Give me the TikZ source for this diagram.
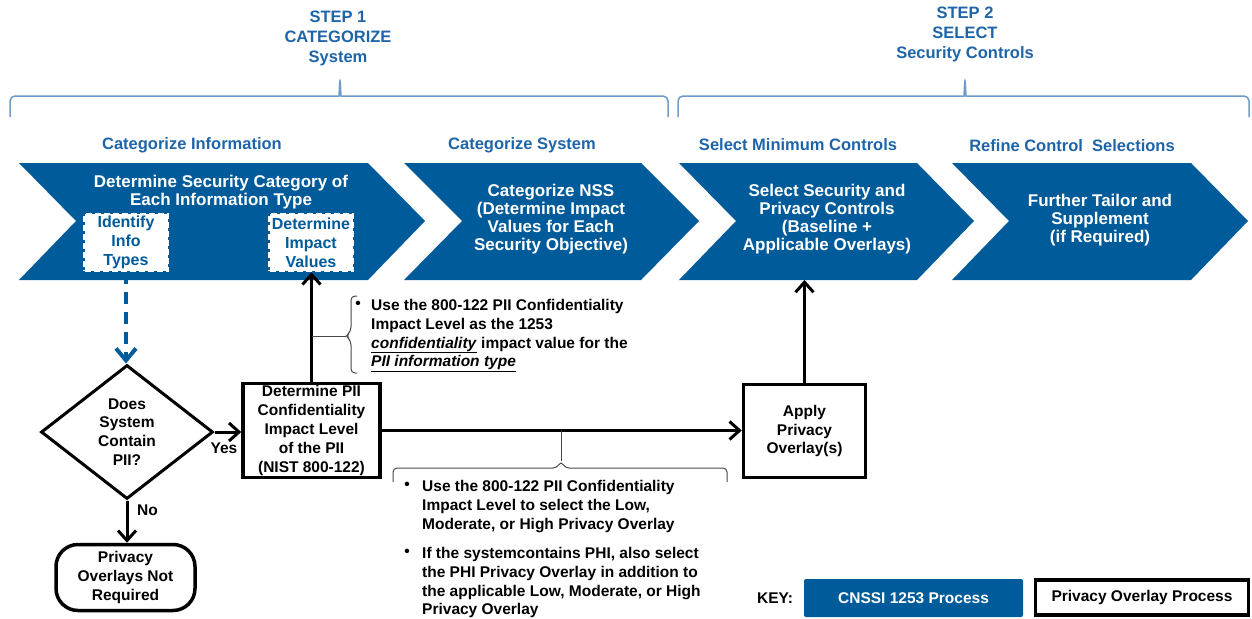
\documentclass[tikz,border=0pt]{standalone}
\usepackage{fontspec}
\setmainfont{Liberation Sans}
\usetikzlibrary{shapes.geometric,arrows.meta}
\definecolor{chevblue}{RGB}{0,91,154}
\definecolor{headblue}{RGB}{30,100,168}
\definecolor{braceblue}{RGB}{110,155,200}
\definecolor{notegray}{RGB}{70,70,70}
\begin{document}
\begin{tikzpicture}[x=1pt,y=-1pt,
  chev/.style={fill=chevblue},
  head/.style={text=headblue,font=\fontsize{16.5}{20}\selectfont\bfseries,align=center},
  chevtext/.style={text=white,font=\fontsize{17}{18}\selectfont\bfseries,align=center},
  infobox/.style={fill=white,draw=white,dash pattern=on 6pt off 3pt,line width=2.5pt,text=chevblue,
    font=\fontsize{16}{19}\selectfont\bfseries,align=center,minimum width=83pt,minimum height=57pt,inner sep=0pt},
  flow/.style={font=\fontsize{15.5}{18.8}\selectfont\bfseries,align=center,inner sep=0pt},
  box/.style={flow,draw,line width=3.5pt},
  link/.style={line width=3pt,-{Straight Barb[length=10pt,width=18pt]}},
  bracket/.style={draw=notegray,line width=1pt,rounded corners=4pt},
  stepbrace/.style={draw=braceblue,line width=1.5pt,rounded corners=5pt},
  note/.style={flow,align=left,anchor=north west}]
\useasboundingbox (0,0) rectangle (1252,618);
\draw[stepbrace] (10,117) -- (10,96) -- (334,96) .. controls (339,96) .. (340,78) .. controls (341,96) .. (346,96) -- (668,96) -- (668,117);
\draw[stepbrace] (678,117) -- (678,96) -- (959,96) .. controls (964,96) .. (965,78) .. controls (966,96) .. (971,96) -- (1249,96) -- (1249,117);
\node[head] (step1) at (338,38) {STEP 1\\CATEGORIZE\\System};
\node[head] (step2) at (965,34) {STEP 2\\SELECT\\Security Controls};
\node[head] (catinfo) at (192,145) {Categorize Information};
\node[head] (catsys) at (522,145) {Categorize System};
\node[head] (selmin) at (798,145) {Select Minimum Controls};
\node[head] (refine) at (1072,146) {Refine Control\ \ Selections};
\fill[chev] (19,163) -- (368,163) -- (425,221) -- (368,280) -- (19,280) -- (76,221) -- cycle;
\fill[chev] (404,163) -- (641,163) -- (699,221) -- (641,280) -- (404,280) -- (462,221) -- cycle;
\fill[chev] (679,163) -- (917,163) -- (974,221) -- (917,280) -- (679,280) -- (736,221) -- cycle;
\fill[chev] (952,163) -- (1191,163) -- (1248,221) -- (1191,280) -- (952,280) -- (1009,221) -- cycle;
\coordinate (chevbase) at (0,280);
\node[chevtext] (seccat) at (221,192.5) {Determine Security Category of\\Each Information Type};
\node[infobox] (ident) at (126,242.5) {Identify\\Info\\Types};
\node[infobox] (impact) at (311,242.5) {Determine\\Impact\\Values};
\node[chevtext] (catnss) at (551,219) {Categorize NSS\\(Determine Impact\\Values for Each\\Security Objective)};
\node[chevtext] (selctl) at (827,219) {Select Security and\\Privacy Controls\\(Baseline +\\Applicable Overlays)};
\node[chevtext] (tailor) at (1100,220) {Further Tailor and\\Supplement\\(if Required)};
\node[flow,diamond,draw,line width=3pt,minimum width=172pt,minimum height=134pt] (haspii) at (127,432) {Does\\System\\Contain\\PII?};
\node[box,minimum width=137pt,minimum height=94pt] (piilevel) at (311.5,430.5) {Determine PII\\Confidentiality\\Impact Level\\of the PII\\(NIST 800-122)};
\node[box,minimum width=122pt,minimum height=93pt] (apply) at (804.5,431) {Apply\\Privacy\\Overlay(s)};
\node[box,rounded corners=22pt,minimum width=139pt,minimum height=66pt] (noreq) at (125.5,577.5) {Privacy\\Overlays Not\\Required};
\node[flow] (yes) at (224,448) {Yes};
\node[flow] (no) at (147.5,510) {No};
\draw[link,draw=chevblue,line width=4pt,dash pattern=on 12pt off 8pt,-{Straight Barb[length=12pt,width=20pt]}] (ident.south) -- (ident.south |- haspii.north);
\draw[link] (haspii.east) -- (haspii.east -| piilevel.west);
\draw[link] (haspii.south) -- (haspii.south |- noreq.north);
\draw[link] (piilevel.north) -- (piilevel.north |- impact.south);
\draw[link] (piilevel.east) -- (piilevel.east -| apply.west);
\draw[link] (apply.north) -- (apply.north |- chevbase);
\coordinate (tip1) at (346,336);
\draw[bracket] (piilevel.north |- tip1) -- (tip1);
\draw[bracket] (357,296) -- (351,296) -- (351,331) -- (tip1) -- (351,341) -- (351,373) -- (357,373);
\node[flow] (dot1) at (358,305) {\textbullet};
\node[note] (note1) at (371,299) {Use the 800-122 PII Confidentiality\\Impact Level as the 1253\\\underline{\textit{confidentiality}} impact value for the\\\underline{\textit{PII information type}}};
\coordinate (tip2) at (561,461);
\draw[bracket] (piilevel.east -| tip2) -- (tip2);
\draw[bracket] (393,482) -- (393,468) -- (557,468) -- (tip2) -- (565,468) -- (727,468) -- (727,482);
\node[flow] (dot2) at (407,486) {\textbullet};
\node[note] (note2) at (422,480) {Use the 800-122 PII Confidentiality\\Impact Level to select the Low,\\Moderate, or High Privacy Overlay};
\node[flow] (dot3) at (407,553) {\textbullet};
\node[note] (note3) at (422,547) {If the systemcontains PHI, also select\\the PHI Privacy Overlay in addition to\\the applicable Low, Moderate, or High\\Privacy Overlay};
\node[flow] (keylbl) at (775,598) {KEY:};
\node[flow,fill=chevblue,text=white,rounded corners=2pt,minimum width=219pt,minimum height=38pt] (keycnssi) at (913.5,598) {CNSSI 1253 Process};
\node[box,minimum width=213pt,minimum height=35pt] (keypriv) at (1142,597.5) {Privacy Overlay Process};
\end{tikzpicture}
\end{document}
